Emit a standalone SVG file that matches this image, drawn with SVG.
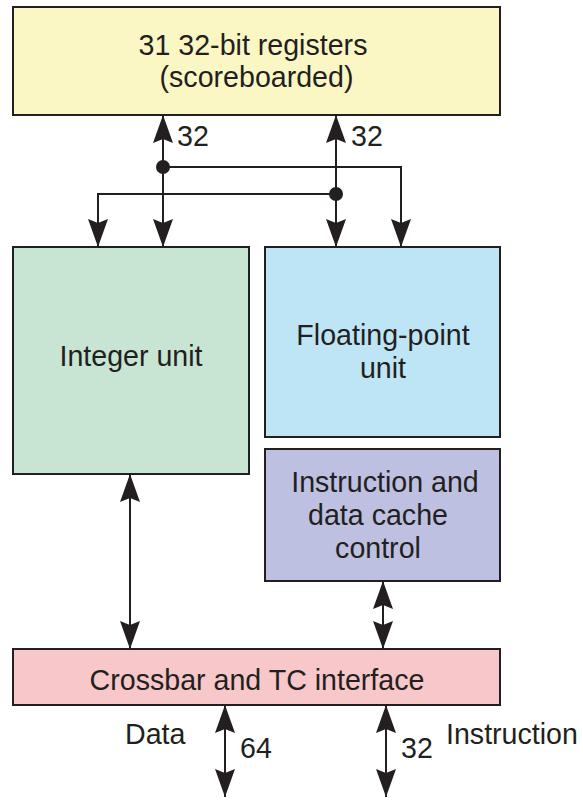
<svg xmlns="http://www.w3.org/2000/svg" width="583" height="800" viewBox="0 0 583 800">
<style>
.box{stroke:#231f20;stroke-width:2}
.t{font-family:"Liberation Sans",Arial,sans-serif;font-size:28.6px;fill:#231f20}
.c{text-anchor:middle}
.ln{fill:none;stroke:#231f20;stroke-width:2}
</style>
<defs>
<marker id="arr" markerUnits="userSpaceOnUse" markerWidth="30" markerHeight="22" refX="28" refY="10" orient="auto-start-reverse">
<path d="M0,0 L28,10 L0,20 L4,10 z" fill="#231f20"/>
</marker>
</defs>
<rect width="583" height="800" fill="#ffffff"/>
<g id="registers">
<rect class="box" x="13" y="7" width="487" height="108" fill="#faf7c5"/>
<text class="t c" x="253" y="55">31 32-bit registers</text>
<text class="t c" x="256.5" y="87">(scoreboarded)</text>
</g>
<g id="integer-unit">
<rect class="box" x="13" y="247" width="236" height="227" fill="#c7e5d2"/>
<text class="t c" x="131" y="366">Integer unit</text>
</g>
<g id="fp-unit">
<rect class="box" x="265" y="247" width="235" height="190" fill="#bde5f6"/>
<text class="t c" x="383" y="345">Floating-point</text>
<text class="t c" x="383" y="378">unit</text>
</g>
<g id="cache-control">
<rect class="box" x="265" y="449" width="235" height="132" fill="#bdc0e0"/>
<text class="t c" x="385" y="492">Instruction and</text>
<text class="t c" x="378" y="525">data cache</text>
<text class="t c" x="378" y="558">control</text>
</g>
<g id="crossbar">
<rect class="box" x="13" y="649" width="487" height="56" fill="#f7c7c9"/>
<text class="t c" x="257" y="690">Crossbar and TC interface</text>
</g>
<g id="connectors">
<line class="ln" x1="163" y1="115" x2="163" y2="247" marker-start="url(#arr)" marker-end="url(#arr)"/>
<line class="ln" x1="336" y1="115" x2="336" y2="247" marker-start="url(#arr)" marker-end="url(#arr)"/>
<path class="ln" d="M163,167 H401 V247" marker-end="url(#arr)"/>
<path class="ln" d="M336,194 H98 V247" marker-end="url(#arr)"/>
<circle cx="163" cy="167" r="7" fill="#231f20"/>
<circle cx="336" cy="194" r="7" fill="#231f20"/>
<line class="ln" x1="130" y1="474" x2="130" y2="649" marker-start="url(#arr)" marker-end="url(#arr)"/>
<line class="ln" x1="383" y1="581" x2="383" y2="649" marker-start="url(#arr)" marker-end="url(#arr)"/>
<line class="ln" x1="225" y1="705" x2="225" y2="797" marker-start="url(#arr)" marker-end="url(#arr)"/>
<line class="ln" x1="386" y1="705" x2="386" y2="797" marker-start="url(#arr)" marker-end="url(#arr)"/>
</g>
<g id="labels">
<text class="t" x="177" y="146">32</text>
<text class="t" x="351" y="146">32</text>
<text class="t" x="125" y="744">Data</text>
<text class="t" x="240" y="758">64</text>
<text class="t" x="401" y="758">32</text>
<text class="t" x="446" y="744">Instruction</text>
</g>
</svg>
